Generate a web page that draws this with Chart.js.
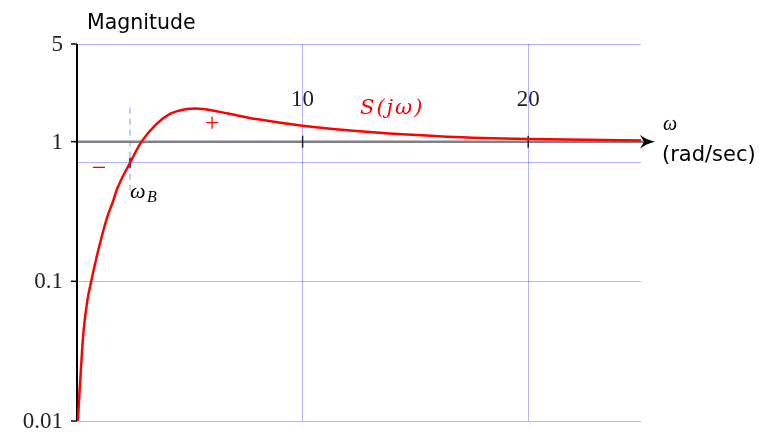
<!DOCTYPE html>
<html>
<head>
<meta charset="utf-8">
<script src="https://cdn.jsdelivr.net/npm/chart.js@4"></script>
<style>
  html, body { margin: 0; padding: 0; background: #fff; }
  canvas { display: block; }
</style>
</head>
<body>
<canvas id="canvas" width="763" height="434"></canvas>
<script>
// frequency (rad/sec) and |S(jw)|
var omega = [0.04, 0.09, 0.18, 0.28, 0.46, 0.63, 0.94, 1.34, 1.61, 1.75, 2.35, 2.86, 3.53, 4.12, 4.85, 5.25, 5.6, 6.7, 7.95, 10, 13.1, 16.4, 20, 25];
var magnitude = [0.01, 0.0141, 0.0244, 0.0423, 0.073, 0.1, 0.166, 0.288, 0.379, 0.447, 0.705, 1.0, 1.34, 1.58, 1.71, 1.73, 1.71, 1.59, 1.45, 1.30, 1.165, 1.086, 1.045, 1.02];

var xTicks = [10, 20];
var yTicks = [5, 1, 0.1, 0.01];
var yTickLabels = ["5", "1", "0.1", "0.01"];
var omegaB = 2.35;
var bandwidthLevel = 0.707;

var points = omega.map(function (w, i) {
  return { x: w, y: magnitude[i] };
});

var serif = '"Liberation Serif", "DejaVu Serif", serif';
var sans = '"DejaVu Sans", sans-serif';

var overlay = {
  id: "overlay",
  beforeDatasetsDraw: function (chart) {
    var ctx = chart.ctx;
    var x = chart.scales.x, y = chart.scales.y;
    var x0 = x.getPixelForValue(0);
    ctx.save();

    // omega_B marker
    var xb = x.getPixelForValue(omegaB);
    ctx.strokeStyle = "rgba(90,90,255,0.7)";
    ctx.lineWidth = 1;
    ctx.setLineDash([6, 5]);
    ctx.beginPath();
    ctx.moveTo(xb, y.getPixelForValue(1.75));
    ctx.lineTo(xb, y.getPixelForValue(0.45));
    ctx.stroke();
    ctx.setLineDash([]);

    // the unity line / frequency axis
    var y1 = y.getPixelForValue(1);
    ctx.strokeStyle = "#80808a";
    ctx.lineWidth = 2.5;
    ctx.beginPath();
    ctx.moveTo(x0, y1);
    ctx.lineTo(646, y1);
    ctx.stroke();

    // x tick marks
    ctx.strokeStyle = "#222";
    ctx.lineWidth = 1.5;
    xTicks.forEach(function (v) {
      var px = x.getPixelForValue(v);
      ctx.beginPath();
      ctx.moveTo(px, y1 - 6);
      ctx.lineTo(px, y1 + 6);
      ctx.stroke();
    });
    var yb = y.getPixelForValue(bandwidthLevel);
    ctx.beginPath();
    ctx.moveTo(xb, yb - 5);
    ctx.lineTo(xb, yb + 5);
    ctx.stroke();

    // y axis
    ctx.strokeStyle = "#000";
    ctx.lineWidth = 2;
    ctx.beginPath();
    ctx.moveTo(x0, y.getPixelForValue(5));
    ctx.lineTo(x0, y.getPixelForValue(0.01));
    ctx.stroke();
    ctx.lineWidth = 1.5;
    yTicks.forEach(function (v) {
      var py = y.getPixelForValue(v);
      ctx.beginPath();
      ctx.moveTo(x0 - 6, py);
      ctx.lineTo(x0, py);
      ctx.stroke();
    });
    ctx.restore();
  },
  afterDatasetsDraw: function (chart) {
    var ctx = chart.ctx;
    var x = chart.scales.x, y = chart.scales.y;
    var y1 = y.getPixelForValue(1);
    ctx.save();

    // arrow head
    ctx.fillStyle = "#000";
    ctx.beginPath();
    ctx.moveTo(655, y1);
    ctx.quadraticCurveTo(646, y1 - 2, 640, y1 - 7);
    ctx.lineTo(644, y1);
    ctx.lineTo(640, y1 + 7);
    ctx.quadraticCurveTo(646, y1 + 2, 655, y1);
    ctx.fill();

    // tick labels
    ctx.fillStyle = "#222";
    ctx.font = "23px " + serif;
    ctx.textAlign = "right";
    ctx.textBaseline = "middle";
    yTicks.forEach(function (v, i) {
      ctx.fillText(yTickLabels[i], 63, y.getPixelForValue(v) + 1);
    });
    ctx.textAlign = "center";
    ctx.textBaseline = "alphabetic";
    xTicks.forEach(function (v) {
      ctx.fillText(String(v), x.getPixelForValue(v), 106);
    });

    // axis titles
    ctx.fillStyle = "#000";
    ctx.textAlign = "left";
    ctx.font = "20.5px " + sans;
    ctx.fillText("Magnitude", 87, 29);
    ctx.font = "21px " + sans;
    ctx.fillText("(rad/sec)", 662, 161);
    ctx.font = "italic 20px " + serif;
    ctx.fillText("\u03c9", 663, 130);

    // omega_B label
    var xb = x.getPixelForValue(omegaB);
    ctx.font = "italic 22px " + serif;
    ctx.fillText("\u03c9", xb, 198);
    ctx.font = "italic 16px " + serif;
    ctx.fillText("B", xb + 17, 202);

    // curve annotations
    ctx.fillStyle = "#ff0000";
    ctx.font = "italic 21px " + '"DejaVu Serif", serif';
    ctx.letterSpacing = "2px";
    ctx.fillText("S(j\u03c9)", 360, 114);
    ctx.letterSpacing = "0px";
    ctx.font = "26px " + serif;
    ctx.textAlign = "center";
    ctx.textBaseline = "middle";
    ctx.fillText("\u2212", 99, 169);
    ctx.fillText("+", 212, 124);
    ctx.restore();
  }
};

var ctx = document.getElementById("canvas").getContext("2d");
var myChart = new Chart(ctx, {
  type: "line",
  data: {
    datasets: [
      {
        label: "S(jw)",
        data: points,
        borderColor: "#ff0000",
        borderWidth: 2.5,
        pointRadius: 0,
        fill: false,
        cubicInterpolationMode: "monotone",
      },
    ],
  },
  options: {
    responsive: false,
    animation: false,
    layout: { padding: { left: 77, top: 44, right: 122, bottom: 13 } },
    plugins: { legend: { display: false }, tooltip: { enabled: false } },
    scales: {
      x: {
        type: "linear",
        min: 0,
        max: 25,
        ticks: { display: false },
        border: { display: false },
        grid: { color: "rgba(0,0,255,0.3)", drawTicks: false },
        afterBuildTicks: function (scale) {
          scale.ticks = xTicks.map(function (v) { return { value: v }; });
        },
      },
      y: {
        type: "logarithmic",
        min: 0.01,
        max: 5,
        ticks: { display: false },
        border: { display: false },
        grid: { color: "rgba(0,0,255,0.3)", drawTicks: false },
        afterBuildTicks: function (scale) {
          scale.ticks = [0.01, 0.1, bandwidthLevel, 1, 5].map(function (v) { return { value: v }; });
        },
      },
    },
  },
  plugins: [overlay],
});
</script>
</body>
</html>
